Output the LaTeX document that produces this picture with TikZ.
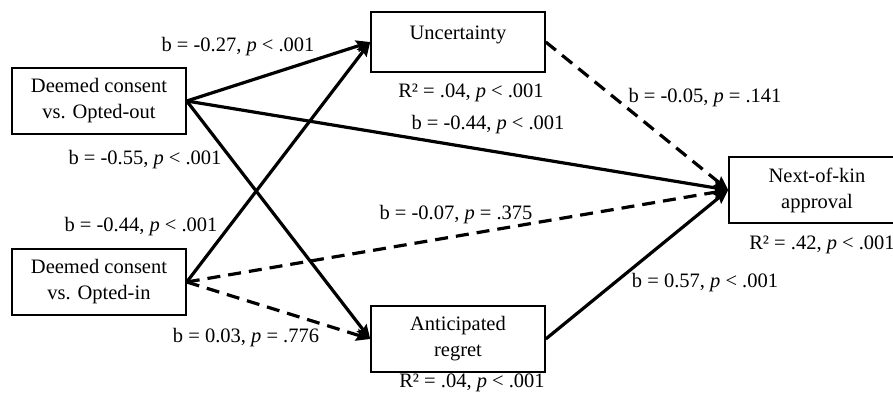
\documentclass[tikz,border=0pt]{standalone}
\usepackage{fontspec}
\setmainfont{Liberation Serif}
\usetikzlibrary{arrows.meta}
\begin{document}
\begin{tikzpicture}[x=1pt,y=-1pt,
  every node/.style={font=\fontsize{20.5}{26}\selectfont},
  box/.style={draw,line width=1.5pt,minimum width=174pt,minimum height=66pt,align=center,inner sep=0pt},
  lbl/.style={inner sep=0pt},
  path/.style={line width=3.2pt,-{Stealth[length=14pt,width=12pt,inset=2pt]}},
  ns/.style={path,dash pattern=on 13pt off 8pt}]
\useasboundingbox (0,0) rectangle (893,396);
\node[box] (oo) at (99,101) {Deemed consent\\vs. Opted-out};
\node[box] (oi) at (99,282) {Deemed consent\\vs. Opted-in};
\node[box,minimum height=60pt] (unc) at (458,42) {\raisebox{18pt}{Uncertainty}};
\node[box] (ar) at (458,339) {Anticipated\\regret};
\node[box,minimum width=176pt] (nok) at (817,190) {Next-of-kin\\approval};
\node[lbl] (r1) at (471,93) {R² = .04, \textit{p} < .001};
\node[lbl] (r2) at (472,383) {R² = .04, \textit{p} < .001};
\node[lbl] (r3) at (822,245) {R² = .42, \textit{p} < .001};
\draw[path] (oo.east) -- (unc.west);
\draw[path] (oi.east) -- (unc.west);
\draw[path] (oo.east) -- (ar.west);
\draw[ns] (oi.east) -- (ar.west);
\draw[path] (oo.east) -- (nok.west);
\draw[ns] (oi.east) -- (nok.west);
\draw[ns] (unc.east) -- (nok.west);
\draw[path] (ar.east) -- (nok.west);
\node[lbl] (l1) at (238,47) {b = -0.27, \textit{p} < .001};
\node[lbl] (l2) at (145,160) {b = -0.55, \textit{p} < .001};
\node[lbl] (l3) at (141,227) {b = -0.44, \textit{p} < .001};
\node[lbl] (l4) at (246,338) {b = 0.03, \textit{p} = .776};
\node[lbl] (l5) at (488,125) {b = -0.44, \textit{p} < .001};
\node[lbl] (l6) at (456,215) {b = -0.07, \textit{p} = .375};
\node[lbl] (l7) at (705,98) {b = -0.05, \textit{p} = .141};
\node[lbl] (l8) at (705,283) {b = 0.57, \textit{p} < .001};
\end{tikzpicture}
\end{document}
